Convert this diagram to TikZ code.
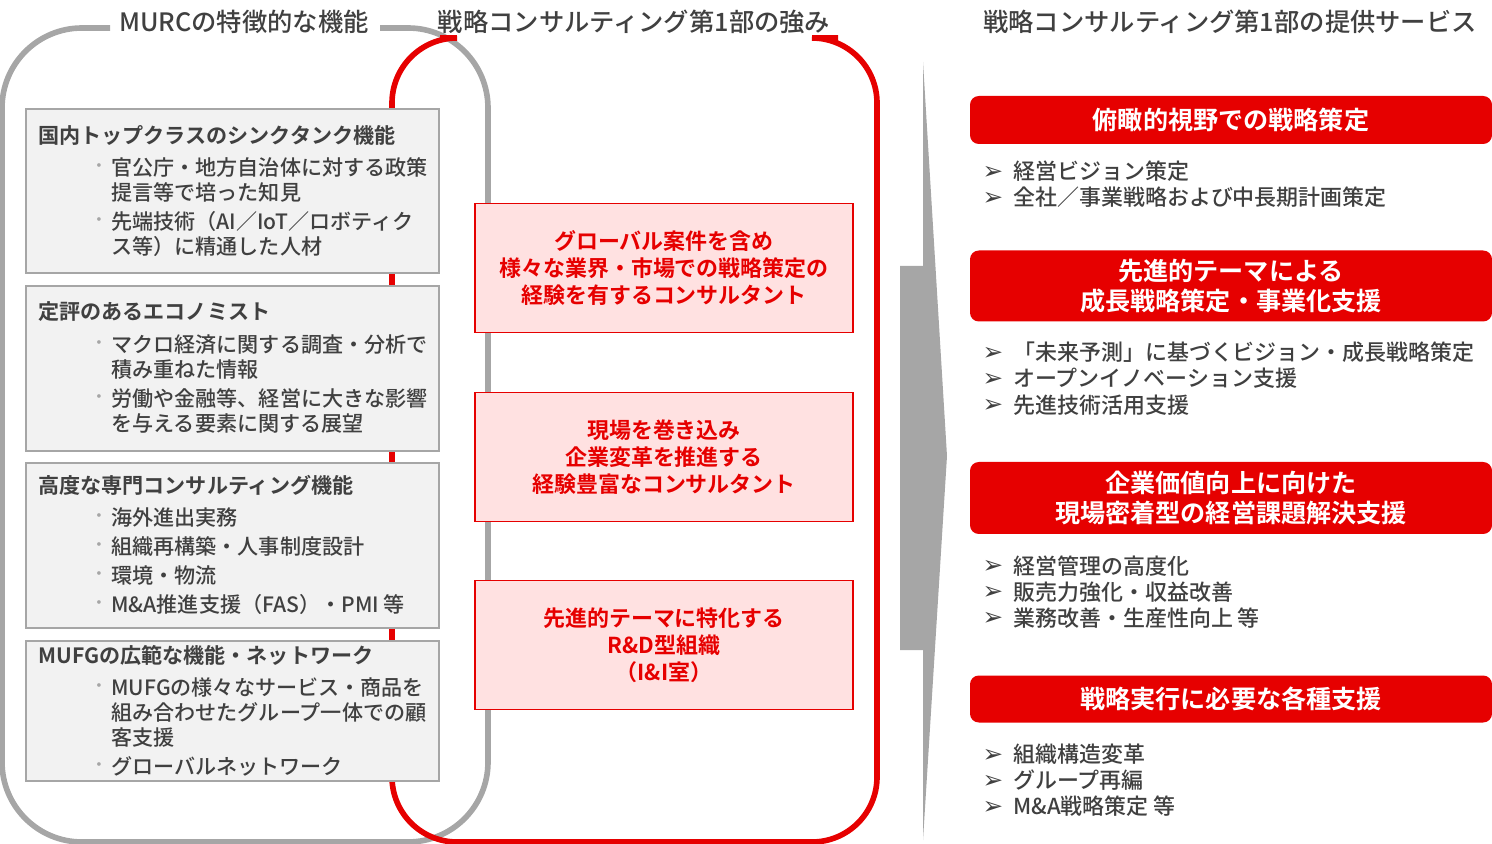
\documentclass[tikz,border=0pt]{standalone}
\usepackage{fontspec}
\setmainfont{Noto Sans CJK JP Medium}[BoldFont={Noto Sans CJK JP Bold}]
\newfontfamily\symfont{DejaVu Sans}
\usetikzlibrary{positioning,calc}
\definecolor{mrRed}{RGB}{230,0,0}
\definecolor{mrGray}{RGB}{166,166,166}
\definecolor{mrText}{RGB}{64,64,64}
\definecolor{mrPink}{RGB}{255,225,225}
\definecolor{mrBox}{RGB}{242,242,242}
\tikzset{
  title/.style={text=mrText, font=\fontsize{14.4}{16}\selectfont, inner sep=0pt},
  graybox/.style={draw=mrGray, fill=mrBox, line width=1.2pt},
  pinkbox/.style={draw=mrRed, fill=mrPink, line width=1pt, text=mrRed, font=\bfseries\fontsize{12.5}{15.3}\selectfont, align=center, minimum width=378*0.02cm, minimum height=129*0.02cm, inner sep=0pt},
  redbar/.style={fill=mrRed, rounded corners=5pt, text=white, font=\bfseries\fontsize{14.3}{17}\selectfont, align=center, minimum width=522*0.02cm, inner sep=0pt},
  bhead/.style={anchor=west, text=mrText, font=\bfseries\fontsize{12}{14}\selectfont, inner sep=0pt},
  btext/.style={anchor=north west, text=mrText, align=left, font=\fontsize{12}{14.2}\selectfont, inner sep=0pt},
  bdot/.style={text=mrGray, font=\fontsize{9}{10}\selectfont, inner sep=0pt},
  rtext/.style={anchor=north west, text=mrText, align=left, font=\fontsize{12.5}{14.8}\selectfont, inner sep=0pt},
}
% bullet item in the left boxes
\newcommand\lbul[3]{%
  \node[bdot] at (99,#1) {・};
  \node[btext] (#2) at (111,#1-11) {#3};}
% marker list on the right
\newcommand\rmark[1]{%
  \node[text=mrText, font=\symfont\fontsize{14}{14}\selectfont, inner sep=0pt] at (993,#1) {➢};}
\begin{document}
\begin{tikzpicture}[x=0.02cm, y=-0.02cm]
  \useasboundingbox (0,0) rectangle (1492,844);
  % frames
  \draw[mrGray, line width=3.2pt, rounded corners=1.6cm] (110,28) -- (2,28) -- (2,842) -- (488,842) -- (488,28) -- (380,28);
  \draw[mrRed, line width=3.2pt, rounded corners=1.3cm] (440,38) -- (392,38) -- (392,842) -- (877,842) -- (877,38) -- (838,38);
  \node[title] (tmurc) at (244,22) {MURCの特徴的な機能};
  \node[title] (tstr) at (634,22) {戦略コンサルティング第1部の強み};
  \node[title] (tsvc) at (1230,22) {戦略コンサルティング第1部の提供サービス};

  % left boxes
  \draw[graybox] (26,109) rectangle (439,273);
  \node[bhead] (h1) at (38,135) {国内トップクラスのシンクタンク機能};
  \lbul{168}{b11}{官公庁・地方自治体に対する政策\\提言等で培った知見}
  \lbul{222}{b12}{先端技術（AI／IoT／ロボティク\\ス等）に精通した人材}

  \draw[graybox] (26,286) rectangle (439,451);
  \node[bhead] (h2) at (38,312) {定評のあるエコノミスト};
  \lbul{345}{b21}{マクロ経済に関する調査・分析で\\積み重ねた情報}
  \lbul{399}{b22}{労働や金融等、経営に大きな影響\\を与える要素に関する展望}

  \draw[graybox] (26,463) rectangle (439,628);
  \node[bhead] (h3) at (38,485) {高度な専門コンサルティング機能};
  \lbul{518}{b31}{海外進出実務}
  \lbul{547}{b32}{組織再構築・人事制度設計}
  \lbul{576}{b33}{環境・物流}
  \lbul{605}{b34}{M\&A推進支援（FAS）・PMI 等}

  \draw[graybox] (26,641) rectangle (439,781);
  \node[bhead] (h4) at (38,655) {MUFGの広範な機能・ネットワーク};
  \lbul{688}{b41}{MUFGの様々なサービス・商品を\\組み合わせたグループ一体での顧\\客支援}
  \lbul{767}{b42}{グローバルネットワーク}

  % strengths
  \node[pinkbox] (s1) at (664,268) {グローバル案件を含め\\様々な業界・市場での戦略策定の\\経験を有するコンサルタント};
  \node[pinkbox] (s2) at (664,457) {現場を巻き込み\\企業変革を推進する\\経験豊富なコンサルタント};
  \node[pinkbox] (s3) at (664,645) {先進的テーマに特化する\\R\&D型組織\\（I\&I室）};

  % big arrow
  \fill[mrGray] (900,266) -- (923,266) -- (923,62) -- (947,456) -- (923,840) -- (923,650) -- (900,650) -- cycle;

  % services
  \node[redbar, minimum height=48*0.02cm] (v1) at (1231,120) {俯瞰的視野での戦略策定};
  \rmark{173}\rmark{199}
  \node[rtext] (l1) at (1013,161) {経営ビジョン策定\\全社／事業戦略および中長期計画策定};

  \node[redbar, minimum height=71*0.02cm] (v2) at (1231,286) {先進的テーマによる\\成長戦略策定・事業化支援};
  \rmark{354}\rmark{380}\rmark{406}
  \node[rtext] (l2) at (1013,342) {「未来予測」に基づくビジョン・成長戦略策定\\オープンイノベーション支援\\先進技術活用支援};

  \node[redbar, minimum height=72*0.02cm] (v3) at (1231,498) {企業価値向上に向けた\\現場密着型の経営課題解決支援};
  \rmark{567}\rmark{593}\rmark{619}
  \node[rtext] (l3) at (1013,555) {経営管理の高度化\\販売力強化・収益改善\\業務改善・生産性向上 等};

  \node[redbar, minimum height=47*0.02cm] (v4) at (1231,699) {戦略実行に必要な各種支援};
  \rmark{756}\rmark{782}\rmark{808}
  \node[rtext] (l4) at (1013,744) {組織構造変革\\グループ再編\\M\&A戦略策定 等};
\end{tikzpicture}
\end{document}
